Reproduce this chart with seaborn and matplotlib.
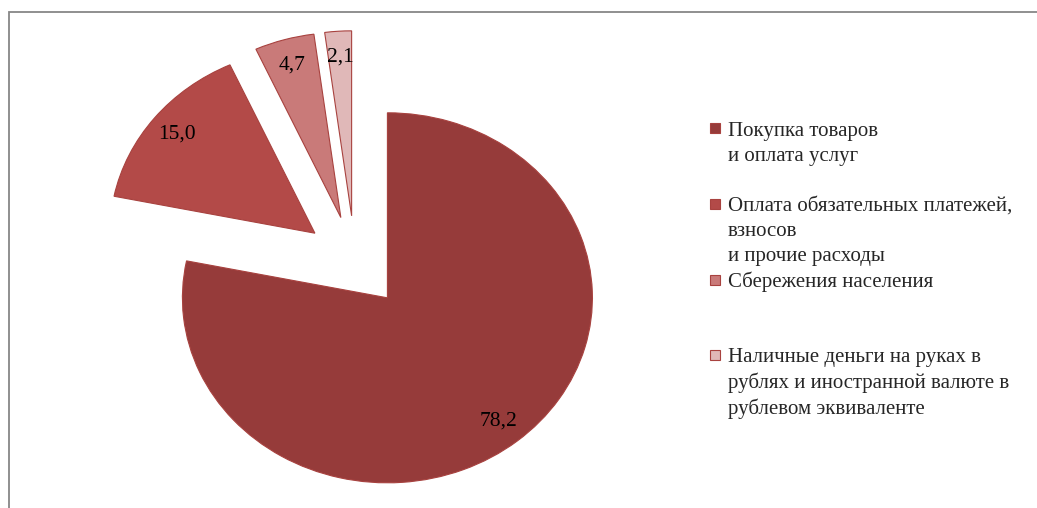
import matplotlib
matplotlib.use("Agg")
import matplotlib.pyplot as plt
from matplotlib.lines import Line2D
from matplotlib.patches import Rectangle
import seaborn as sns

# Structure of household money spending, %
categories = [
    "Покупка товаров\nи оплата услуг",
    "Оплата обязательных платежей,\nвзносов\nи прочие расходы",
    "Сбережения населения",
    "Наличные деньги на руках в\nрублях и иностранной валюте в\nрублевом эквиваленте",
]
shares = [78.2, 15.0, 4.7, 2.1]
slice_colors = ["#963B3A", "#B34A48", "#C97A79", "#E0B8B8"]
edge_color = "#A8423F"

sns.set_theme(style="white")
plt.rcParams["font.family"] = ["Liberation Serif", "DejaVu Serif"]

W, H = 1037, 508
fig = plt.figure(figsize=(W / 100, H / 100), dpi=100)
ax = fig.add_axes([0, 0, 1, 1])

palette = sns.color_palette(slice_colors)
wedges, _, value_texts = ax.pie(
    shares,
    colors=palette,
    explode=[0.25] * len(shares),
    startangle=90,
    counterclock=False,
    autopct=lambda p: f"{p:.1f}".replace(".", ","),
    pctdistance=0.86,
    wedgeprops=dict(edgecolor=edge_color, linewidth=0.8),
    textprops=dict(fontsize=15.5, color="black"),
)

# Stretched (elliptical) pie as in the office chart
cx, cy, rx, ry = 355, 262, 205, 185
ax.set_aspect("auto")
ax.set_xlim(-cx / rx, (W - cx) / rx)
ax.set_ylim((cy - H) / ry, cy / ry)
ax.axis("off")

# Legend: one row per text line, a swatch on the first line of each entry
handles, labels = [], []
for name, col in zip(categories, palette):
    lines = name.split("\n")
    lines += [""] * (3 - len(lines))
    for i, line in enumerate(lines):
        if i == 0:
            handles.append(Line2D([], [], ls="none", marker="s", markersize=7.5,
                                  markerfacecolor=col, markeredgecolor=edge_color,
                                  markeredgewidth=0.8))
        else:
            handles.append(Line2D([], [], ls="none", marker=None))
        labels.append(line)

fig.legend(
    handles, labels,
    loc="upper left",
    bbox_to_anchor=(709 / W, 1 - 121 / H),
    frameon=False,
    fontsize=15,
    handlelength=0.6,
    handletextpad=0.3,
    labelspacing=0.265,
    borderpad=0,
    borderaxespad=0,
)

# Chart-area border (top and left sides visible)
fig.patches.append(Rectangle((9 / W, -0.2), 1.2, 1.2 - 12 / H,
                             transform=fig.transFigure, fill=False,
                             edgecolor="#878787", linewidth=1.3, clip_on=False))

fig.savefig("out.png", dpi=100)
